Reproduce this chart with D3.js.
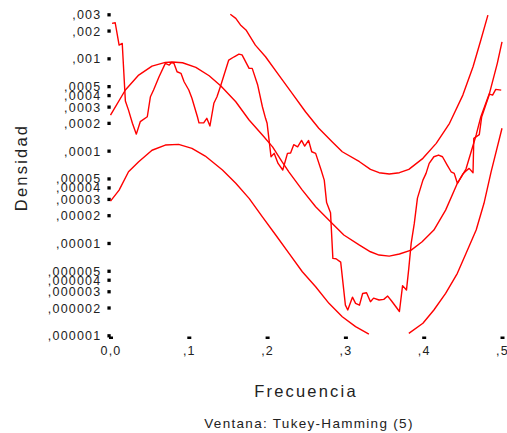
<!DOCTYPE html>
<meta charset="utf-8">
<style>
body { margin: 0; background: #fff; }
.tick text { font-family: Arial, "Liberation Sans", sans-serif; font-size: 12.5px; fill: #222; letter-spacing: 1.2px; }
.serie { fill: none; stroke: #ff0000; stroke-width: 1.4px; stroke-linejoin: round; }
.titulo { font-family: Arial, "Liberation Sans", sans-serif; fill: #222; }
</style>
<body>
<script src="https://d3js.org/d3.v7.min.js"></script>
<script>

// tick values and labels
var yTicks = [0.003, 0.002, 0.001, 0.0005, 0.0004, 0.0003, 0.0002, 0.0001,
              0.00005, 0.00004, 0.00003, 0.00002, 0.00001,
              0.000005, 0.000004, 0.000003, 0.000002, 0.000001];
var yLabels = [",003", ",002", ",001", ",0005", ",0004", ",0003", ",0002", ",0001",
               ",00005", ",00004", ",00003", ",00002", ",00001",
               ",000005", ",000004", ",000003", ",000002", ",000001"];
var xTicks = [0, 0.1, 0.2, 0.3, 0.4, 0.5];
var xLabels = ["0,0", ",1", ",2", ",3", ",4", ",5"];

// periodogram (jagged line)
var perFreq = [0.002, 0.006, 0.011, 0.015, 0.019, 0.023, 0.028, 0.033, 0.038, 0.047,
  0.051, 0.055, 0.062, 0.070, 0.075, 0.078, 0.081, 0.085, 0.090, 0.094,
  0.100, 0.104, 0.111, 0.113, 0.119, 0.123, 0.127, 0.132, 0.136, 0.141,
  0.151, 0.158, 0.164, 0.168, 0.177, 0.181, 0.188, 0.194, 0.198, 0.200,
  0.202, 0.205, 0.209, 0.214, 0.220, 0.226, 0.230, 0.234, 0.239, 0.244,
  0.248, 0.253, 0.257, 0.262, 0.269, 0.273, 0.276, 0.281, 0.284, 0.288,
  0.294, 0.300, 0.303, 0.309, 0.313, 0.318, 0.322, 0.327, 0.332, 0.336,
  0.343, 0.349, 0.354, 0.359, 0.369, 0.373, 0.378, 0.381, 0.384, 0.388,
  0.392, 0.399, 0.403, 0.407, 0.413, 0.419, 0.424, 0.430, 0.435, 0.439,
  0.443, 0.450, 0.454, 0.458, 0.463, 0.464, 0.471, 0.474, 0.484, 0.488,
  0.492, 0.499];
var perValue = [0.00239, 0.00243, 0.00139, 0.00145, 0.000345, 0.000275, 0.000198, 0.000151, 0.000206, 0.000233,
  0.000384, 0.000454, 0.000632, 0.000883, 0.000846, 0.000901, 0.000883, 0.000716, 0.000688, 0.000558,
  0.000454, 0.000369, 0.000233, 0.000200, 0.000200, 0.000224, 0.000185, 0.000326, 0.000384, 0.000514,
  0.000958, 0.00104, 0.00111, 0.00109, 0.000779, 0.000779, 0.000514, 0.000299, 0.000224, 0.000198,
  0.000142, 0.0000859, 0.0000935, 0.0000728, 0.0000617, 0.0000935, 0.0000942, 0.000116, 0.000110, 0.000129,
  0.000112, 0.000129, 0.0000973, 0.0000935, 0.0000617, 0.0000480, 0.0000274, 0.0000213, 0.00000681, 0.00000675,
  0.00000621, 0.00000212, 0.00000188, 0.00000259, 0.00000222, 0.00000212, 0.00000284, 0.00000289, 0.00000231, 0.00000253,
  0.00000241, 0.00000245, 0.00000266, 0.00000235, 0.00000181, 0.00000345, 0.00000309, 0.00000535, 0.00000991, 0.0000163,
  0.0000306, 0.0000480, 0.0000568, 0.0000728, 0.0000859, 0.0000896, 0.0000859, 0.0000698, 0.0000591, 0.0000568,
  0.0000443, 0.0000558, 0.0000601, 0.0000643, 0.0000577, 0.000136, 0.000149, 0.000231, 0.000410, 0.000400,
  0.000461, 0.000453];

// smoothed spectral density
var estFreq = [0, 0.019, 0.036, 0.053, 0.070, 0.079, 0.092, 0.109, 0.126, 0.141,
  0.160, 0.177, 0.194, 0.207, 0.219, 0.228, 0.245, 0.262, 0.281, 0.298,
  0.318, 0.332, 0.343, 0.356, 0.369, 0.384, 0.398, 0.413, 0.428, 0.443,
  0.454, 0.467, 0.473, 0.484, 0.494, 0.500];
var estValue = [0.000243, 0.000454, 0.000659, 0.000825, 0.000905, 0.000912, 0.000896, 0.000799, 0.000648, 0.000501,
  0.000339, 0.000215, 0.000148, 0.000110, 0.0000759, 0.0000586, 0.0000374, 0.0000247, 0.0000170, 0.0000122,
  0.00000948, 0.00000803, 0.00000740, 0.00000721, 0.00000759, 0.00000838, 0.0000103, 0.0000138, 0.0000227, 0.0000443,
  0.0000632, 0.000148, 0.000233, 0.000418, 0.000883, 0.00151];

// upper confidence limit
var supFreq = [0.153, 0.160, 0.166, 0.173, 0.185, 0.198, 0.215, 0.232, 0.249, 0.266,
  0.283, 0.296, 0.318, 0.332, 0.343, 0.356, 0.369, 0.381, 0.399, 0.416,
  0.433, 0.450, 0.463, 0.473, 0.482];
var supValue = [0.003, 0.00271, 0.00230, 0.00203, 0.00139, 0.00104, 0.000659, 0.000418, 0.000264, 0.000175,
  0.000125, 0.0000973, 0.0000759, 0.0000627, 0.0000577, 0.0000558, 0.0000577, 0.0000627, 0.0000826, 0.000120,
  0.000198, 0.000400, 0.000811, 0.00158, 0.00294];

// lower confidence limit (null = below the axis)
var infFreq = [0, 0.011, 0.023, 0.036, 0.053, 0.070, 0.087, 0.104, 0.121, 0.143,
  0.160, 0.177, 0.194, 0.211, 0.228, 0.245, 0.262, 0.279, 0.296, 0.313,
  0.330, 0.356, 0.381, 0.399, 0.413, 0.428, 0.443, 0.454, 0.467, 0.477,
  0.486, 0.500];
var infValue = [0.0000284, 0.0000374, 0.0000591, 0.0000759, 0.000101, 0.000115, 0.000117, 0.000106, 0.0000874, 0.0000617,
  0.0000443, 0.0000304, 0.0000192, 0.0000122, 0.00000771, 0.00000488, 0.00000336, 0.00000222, 0.00000159, 0.00000124,
  0.00000103, null, 0.00000105, 0.00000135, 0.00000188, 0.00000284, 0.00000469, 0.00000771, 0.0000138, 0.0000269,
  0.0000586, 0.000175];

var W = 507, H = 433;

var svg = d3.select("body").append("svg")
    .attr("width", W)
    .attr("height", H);

var x = d3.scaleLinear().domain([0, 0.5]).range([110.5, 502]);
var y = d3.scaleLog().domain([0.000001, 0.003]).range([335.3, 14.3]);

// Y axis: tiny squares as ticks
var yAxis = svg.append("g")
    .attr("transform", "translate(110.7,0)")
    .call(d3.axisLeft(y).tickValues(yTicks).tickSize(3.3).tickPadding(6)
      .tickFormat(function(d, i) { return yLabels[i]; }));
yAxis.select(".domain").remove();
yAxis.selectAll(".tick line").attr("stroke", "#000").attr("stroke-width", 3.3);
yAxis.selectAll(".tick text").attr("dy", "0.36em");

// X axis
var xAxis = svg.append("g")
    .attr("transform", "translate(0,336.5)")
    .call(d3.axisBottom(x).tickValues(xTicks).tickSize(2.5).tickPadding(7)
      .tickFormat(function(d, i) { return xLabels[i]; }));
xAxis.select(".domain").remove();
xAxis.selectAll(".tick line").attr("stroke", "#000").attr("stroke-width", 4);

function pares(f, v) {
  return f.map(function(d, i) { return {f: d, v: v[i]}; });
}

var line = d3.line()
    .defined(function(d) { return d.v != null; })
    .x(function(d) { return x(d.f); })
    .y(function(d) { return y(d.v); });

[pares(supFreq, supValue), pares(infFreq, infValue),
 pares(estFreq, estValue), pares(perFreq, perValue)].forEach(function(s) {
  svg.append("path")
      .datum(s)
      .attr("class", "serie")
      .attr("d", line);
});

// titles
svg.append("text")
    .attr("class", "titulo")
    .attr("transform", "translate(27,167.5) rotate(-90)")
    .attr("text-anchor", "middle")
    .style("font-size", "16.5px")
    .style("letter-spacing", "2.2px")
    .text("Densidad");

svg.append("text")
    .attr("class", "titulo")
    .attr("x", 306).attr("y", 397)
    .attr("text-anchor", "middle")
    .style("font-size", "16.5px")
    .style("letter-spacing", "2.2px")
    .text("Frecuencia");

svg.append("text")
    .attr("class", "titulo")
    .attr("x", 309).attr("y", 428)
    .attr("text-anchor", "middle")
    .style("font-size", "13.5px")
    .style("letter-spacing", "1.3px")
    .text("Ventana: Tukey-Hamming (5)");

</script>
</body>
